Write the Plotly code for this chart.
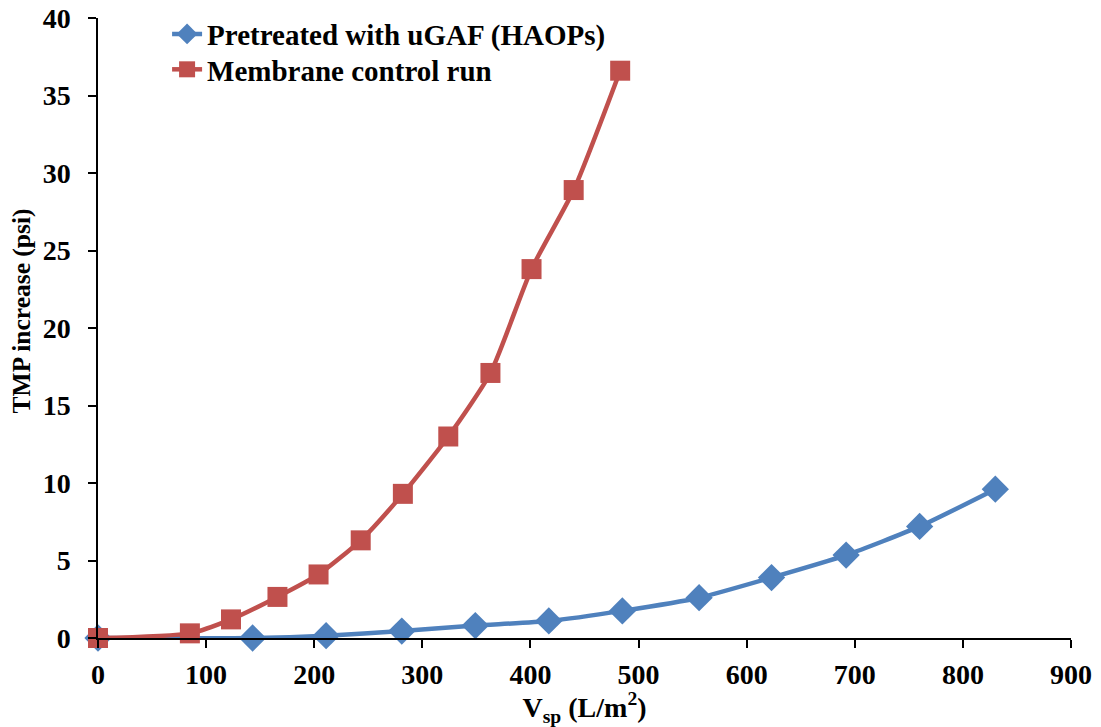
import plotly.graph_objects as go

# Specific volume (L/m^2) and TMP increase (psi)
haops_vsp = [0, 143, 211, 281, 349, 417, 485, 556, 623, 692, 760, 830]
haops_tmp = [0.0, 0.0, 0.15, 0.45, 0.8, 1.1, 1.75, 2.6, 3.9, 5.35, 7.2, 9.6]

control_vsp = [0, 85, 123, 166, 204, 243, 282, 324, 363, 401, 440, 483]
control_tmp = [0.0, 0.3, 1.2, 2.65, 4.1, 6.3, 9.3, 13.0, 17.1, 23.8, 28.9, 36.6]

x_ticks = [0, 100, 200, 300, 400, 500, 600, 700, 800, 900]
y_ticks = [0, 5, 10, 15, 20, 25, 30, 35, 40]

BLUE = "#4F81BD"
RED = "#C0504D"
FONT = "Liberation Serif"
LEGEND_FONT = dict(family=FONT, size=29, color="black", weight="bold")

fig = go.Figure()
fig.add_trace(go.Scatter(
    x=haops_vsp, y=haops_tmp, mode="lines+markers",
    name="Pretreated with uGAF (HAOPs)", legend="legend",
    line=dict(color=BLUE, width=4.5, shape="spline", smoothing=0.6),
    marker=dict(symbol="diamond", size=21, color=BLUE),
    cliponaxis=False,
))
fig.add_trace(go.Scatter(
    x=control_vsp, y=control_tmp, mode="lines+markers",
    name="Membrane control run", legend="legend2",
    line=dict(color=RED, width=4.5, shape="spline", smoothing=0.6),
    marker=dict(symbol="square", size=20, color=RED),
    cliponaxis=False,
))

fig.update_layout(
    width=1101, height=727,
    margin=dict(l=98, r=30, t=18, b=89, autoexpand=False),
    paper_bgcolor="white", plot_bgcolor="white",
    font=dict(family=FONT, color="black", size=24),
    showlegend=True,
    legend=dict(x=0.071, y=0.974, xanchor="left", yanchor="middle",
                bgcolor="rgba(0,0,0,0)", font=LEGEND_FONT),
    legend2=dict(x=0.071, y=0.917, xanchor="left", yanchor="middle",
                 bgcolor="rgba(0,0,0,0)", font=LEGEND_FONT),
    xaxis=dict(
        range=[0, 900], tickvals=x_ticks, showgrid=False, zeroline=False,
        showline=True, linecolor="black", linewidth=1.5,
        ticks="outside", ticklen=8, tickcolor="black", tickwidth=1.5,
        ticklabelstandoff=3,
        tickfont=dict(family=FONT, size=28, color="black", weight="bold"),
        title=dict(text="V<sub>sp</sub> (L/m<sup>2</sup>)", standoff=8,
                   font=dict(family=FONT, size=28, color="black", weight="bold")),
    ),
    yaxis=dict(
        range=[0, 40], tickvals=y_ticks, showgrid=False, zeroline=False,
        showline=True, linecolor="black", linewidth=1.5,
        ticks="outside", ticklen=8, tickcolor="black", tickwidth=1.5,
        ticklabelstandoff=12,
        tickfont=dict(family=FONT, size=28, color="black", weight="bold"),
    ),
    annotations=[dict(
        text="TMP increase (psi)", textangle=-90,
        xref="paper", yref="paper", x=-0.079, y=0.527,
        xanchor="center", yanchor="middle", showarrow=False,
        font=dict(family=FONT, size=25.5, color="black", weight="bold"),
    )],
)

fig.write_html("out.html")
